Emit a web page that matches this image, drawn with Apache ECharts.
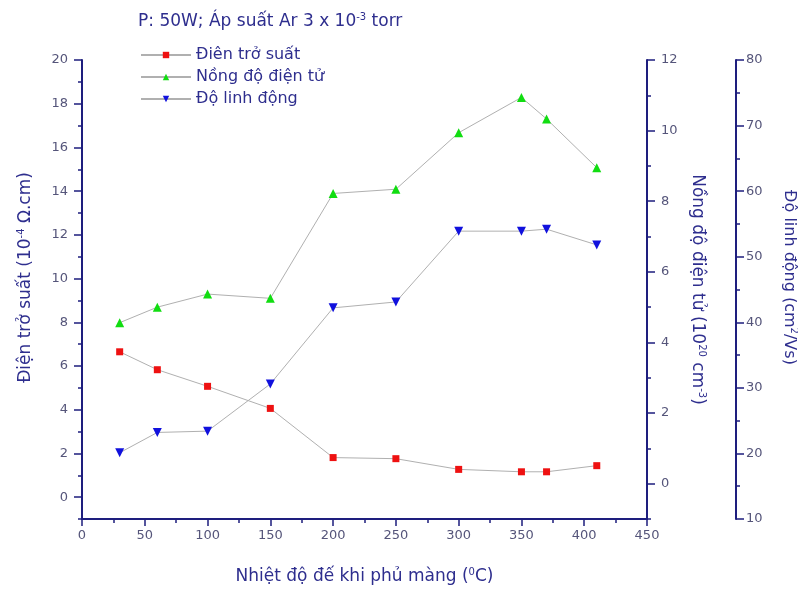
<!DOCTYPE html>
<html>
<head>
<meta charset="utf-8">
<script src="https://cdn.jsdelivr.net/npm/echarts@6/dist/echarts.min.js"></script>
<style>html,body{margin:0;padding:0;background:#fff}#c{width:798px;height:593px}</style>
</head>
<body>
<div id="c"></div>
<script>
var temps = [30, 60, 100, 150, 200, 250, 300, 350, 370, 410];
var resistivity = [6.65, 5.83, 5.07, 4.06, 1.81, 1.76, 1.27, 1.16, 1.16, 1.44];
var concentration = [4.56, 5.0, 5.37, 5.25, 8.22, 8.34, 9.94, 10.94, 10.33, 8.95];
var mobility = [20.1, 23.2, 23.4, 30.6, 42.2, 43.1, 53.9, 53.9, 54.2, 51.8];
var seriesNames = ['Điên trở suất', 'Nồng độ điện tử', 'Độ linh động'];
var resTicks = [0, 2, 4, 6, 8, 10, 12, 14, 16, 18, 20];
var concTicks = [0, 2, 4, 6, 8, 10, 12];

var axisColor = '#1e1e7e';
var textColor = '#2e2e8e';
var labelColor = '#55557a';
var font = 'DejaVu Sans';
var supStyle = {fontSize: 10, verticalAlign: 'top', padding: [0, 0, 9, 0], color: textColor, fontFamily: font};
function nameStyle(pad, size) {
  return {color: textColor, fontSize: size || 17, fontFamily: font, padding: pad || 0, rich: {sup: supStyle}};
}

function pair(arr) { return temps.map(function (t, i) { return [t, arr[i]]; }); }

function yAx(opts) {
  var base = {
    type: 'value',
    splitLine: {show: false},
    axisLine: {show: true, onZero: false, lineStyle: {color: axisColor, width: 2}},
    axisTick: {show: true, length: 4, lineStyle: {color: axisColor, width: 1.5}},
    nameLocation: 'middle'
  };
  for (var k in opts) base[k] = opts[k];
  return base;
}

var chart = echarts.init(document.getElementById('c'));
chart.setOption({
  animation: false,
  backgroundColor: '#fff',
  title: {
    text: 'P: 50W; Áp suất Ar 3 x 10{sup|-3} torr',
    left: 133, top: 7,
    textStyle: {color: textColor, fontSize: 17, fontWeight: 'normal', fontFamily: font, rich: {sup: supStyle}}
  },
  legend: {
    orient: 'vertical', left: 135, top: 42, itemGap: 6,
    itemWidth: 50, itemHeight: 8,
    textStyle: {color: textColor, fontSize: 16, fontFamily: font},
    data: seriesNames
  },
  grid: {left: 82, right: 151, top: 60, bottom: 74, containLabel: false, outerBoundsMode: 'none'},
  xAxis: {
    type: 'value', min: 0, max: 450, interval: 50,
    splitLine: {show: false},
    axisLine: {show: true, onZero: false, lineStyle: {color: axisColor, width: 2}},
    axisTick: {show: true, length: 7, lineStyle: {color: axisColor, width: 1.5}},
    minorTick: {show: true, splitNumber: 2, length: 4, lineStyle: {color: axisColor, width: 1.5}},
    axisLabel: {color: labelColor, fontSize: 13, fontFamily: font, margin: 10},
    name: 'Nhiệt độ đế khi phủ màng ({sup|0}C)',
    nameLocation: 'middle', nameGap: 48,
    nameTextStyle: nameStyle()
  },
  yAxis: [
    yAx({position: 'left', min: -1, max: 20, interval: 1,
      axisLabel: {show: true, customValues: resTicks, margin: 14, color: labelColor, fontSize: 13, fontFamily: font},
      name: 'Điện trở suất (10{sup|-4} Ω.cm)', nameGap: 47, nameRotate: 90,
      nameTextStyle: nameStyle([0, 0, 0, 24])}),
    yAx({position: 'right', min: -1, max: 12, interval: 1,
      axisLabel: {show: true, customValues: concTicks, margin: 14, color: labelColor, fontSize: 13, fontFamily: font},
      name: 'Nồng độ điện tử (10{sup|20} cm{sup|-3})', nameGap: 30, nameRotate: -90,
      nameTextStyle: nameStyle()}),
    yAx({position: 'right', offset: 89, min: 10, max: 80, interval: 10,
      axisTick: {show: true, length: 8, lineStyle: {color: axisColor, width: 1.5}},
      minorTick: {show: true, splitNumber: 2, length: 4, lineStyle: {color: axisColor, width: 1.5}},
      axisLabel: {show: true, margin: 10, color: labelColor, fontSize: 13, fontFamily: font},
      name: 'Độ linh động (cm{sup|2}/Vs)', nameGap: 44, nameRotate: -90,
      nameTextStyle: nameStyle([0, 24, 0, 0], 16)}),
    yAx({position: 'left', min: -1, max: 20, interval: 1,
      axisLine: {show: false},
      axisTick: {show: true, customValues: resTicks, length: 8, lineStyle: {color: axisColor, width: 1.5}},
      axisLabel: {show: false}}),
    yAx({position: 'right', min: -1, max: 12, interval: 1,
      axisLine: {show: false},
      axisTick: {show: true, customValues: concTicks, length: 8, lineStyle: {color: axisColor, width: 1.5}},
      axisLabel: {show: false}})
  ],
  series: [
    {name: seriesNames[0], type: 'line', yAxisIndex: 0, data: pair(resistivity),
      symbol: 'rect', symbolSize: 7, itemStyle: {color: '#ee1111'},
      lineStyle: {color: '#b0b0b0', width: 1}},
    {name: seriesNames[1], type: 'line', yAxisIndex: 1, data: pair(concentration),
      symbol: 'triangle', symbolSize: 9, itemStyle: {color: '#11dd11'},
      lineStyle: {color: '#b0b0b0', width: 1}},
    {name: seriesNames[2], type: 'line', yAxisIndex: 2, data: pair(mobility),
      symbol: 'triangle', symbolRotate: 180, symbolSize: 9, itemStyle: {color: '#1111dd'},
      lineStyle: {color: '#b0b0b0', width: 1}}
  ]
});
</script>
</body>
</html>
